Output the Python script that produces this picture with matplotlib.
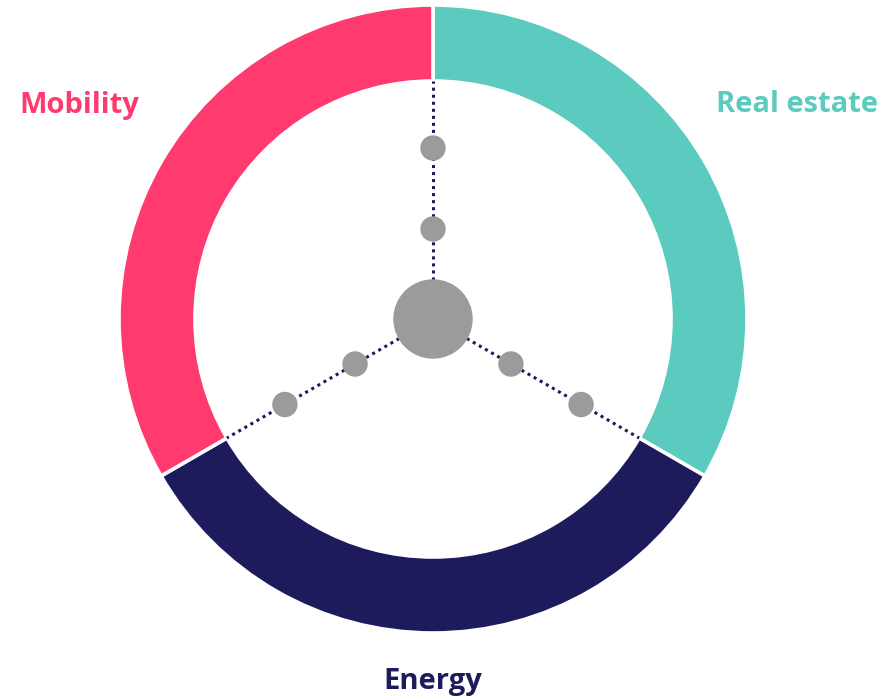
import numpy as np
import matplotlib.pyplot as plt
from matplotlib.patches import Circle

categories = ["Real estate", "Energy", "Mobility"]
shares = [1, 1, 1]
colors = ["#5BCABF", "#1D1B5C", "#FF3A6E"]
spoke_angles = [90, 210, 330]
node_radii = [90, 171]

# geometry in pixels
cx, cy = 433, 381
r_out, ring_w = 314, 76

fig = plt.figure(figsize=(8.93, 7), dpi=100)
ax = fig.add_axes([0, 0, 1, 1])

ax.pie(shares, colors=colors, startangle=90, counterclock=False,
       center=(cx, cy), radius=r_out, frame=True,
       wedgeprops=dict(width=ring_w, edgecolor="white", linewidth=2.6))

r_in = r_out - ring_w
for a in spoke_angles:
    t = np.deg2rad(a)
    ax.plot([cx + 39 * np.cos(t), cx + r_in * np.cos(t)],
            [cy + 39 * np.sin(t), cy + r_in * np.sin(t)],
            color="#1D1B5C", lw=2.2, linestyle=(0, (1, 1.3)),
            dash_capstyle="butt", zorder=2)
    for r in node_radii:
        ax.add_patch(Circle((cx + r * np.cos(t), cy + r * np.sin(t)), 12,
                            color="#9B9B9B", zorder=3))

ax.add_patch(Circle((cx, cy), 39, color="#9B9B9B", zorder=3))

font = dict(family="Open Sans", weight="bold", fontsize=21,
            ha="center", va="center")
ax.text(797, 595, "Real estate", color=colors[0], **font)
ax.text(433, 18, "Energy", color=colors[1], **font)
ax.text(79, 595, "Mobility", color=colors[2], **font)

ax.set_xlim(0, 893)
ax.set_ylim(0, 700)
ax.set_aspect("equal")
ax.axis("off")

fig.savefig("out.png", dpi=100)
